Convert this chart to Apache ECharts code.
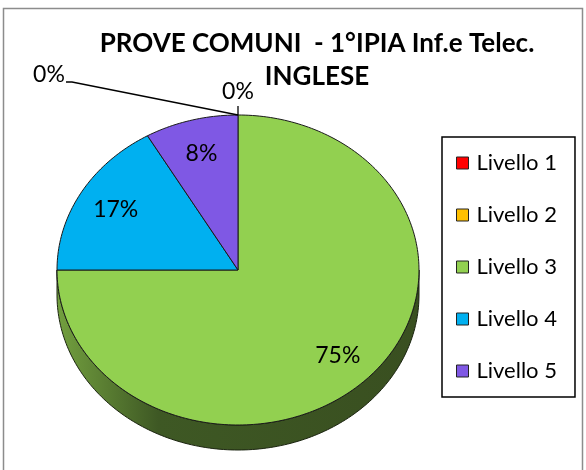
<!DOCTYPE html>
<html>
<head>
<meta charset="utf-8">
<script src="https://cdn.jsdelivr.net/npm/echarts@6/dist/echarts.min.js"></script>
<style>
html, body { margin: 0; padding: 0; background: #fff; }
#chart { width: 586px; height: 470px; }
</style>
</head>
<body>
<div id="chart"></div>
<script>
const levels = ['Livello 1', 'Livello 2', 'Livello 3', 'Livello 4', 'Livello 5']
const values = [0, 0, 9, 2, 1]
const colors = ['#ff0000', '#ffc000', '#92d050', '#00b0f0', '#7f58e4']

const FONT = 'Lato, "Liberation Sans", sans-serif'
// ellipse of the tilted pie
const CX = 238, CY = 270, RX = 181, RY = 155, DEPTH = 25

const total = values.reduce((a, b) => a + b, 0)

function pt(theta, k, dy) {
  return [CX + RX * k * Math.sin(theta), CY - RY * k * Math.cos(theta) + (dy || 0)]
}

function arc(a0, a1, dy) {
  const pts = []
  const n = Math.max(2, Math.ceil((a1 - a0) / 0.02))
  for (let j = 0; j <= n; j++) pts.push(pt(a0 + (a1 - a0) * j / n, 1, dy))
  return pts
}

function makeRender(i) {
  return function (params, api) {
    const v = api.value(0)
    const start = values.slice(0, i).reduce((a, b) => a + b, 0)
    const a0 = start / total * Math.PI * 2
    const a1 = (start + v) / total * Math.PI * 2
    const children = []
    const pct = Math.round(v / total * 100) + '%'
    const lblStyle = { text: pct, fontSize: 23, fontFamily: FONT, fill: '#000', align: 'center', verticalAlign: 'middle' }

    if (v > 0) {
      // side wall, only the front half is visible
      const s = Math.max(a0, Math.PI / 2), e = Math.min(a1, Math.PI * 1.5)
      if (e > s) {
        const side = arc(s, e, 0).concat(arc(s, e, DEPTH).reverse())
        children.push({
          type: 'polygon', z2: 1,
          shape: { points: side },
          style: {
            fill: {
              type: 'linear', global: true, x: CX - RX, y: 0, x2: CX + RX, y2: 0,
              colorStops: [
                { offset: 0, color: '#73a03f' },
                { offset: 0.28, color: '#3e5824' },
                { offset: 1, color: '#394f20' }
              ]
            },
            stroke: '#1b2410', lineWidth: 1
          }
        })
      }
      const top = [[CX, CY]].concat(arc(a0, a1, 0))
      children.push({
        type: 'polygon', z2: 2,
        shape: { points: top },
        style: { fill: colors[i], stroke: '#1a1a1a', lineWidth: 1 }
      })
      const p = pt((a0 + a1) / 2, 0.78)
      children.push({ type: 'text', z2: 5, x: p[0], y: p[1], style: lblStyle })
    } else {
      const tip = pt(a0, 1)
      if (i === 0) {
        children.push({
          type: 'polyline', z2: 4,
          shape: { points: [tip, [tip[0] - 166, tip[1] - 33], [tip[0] - 172, tip[1] - 33]] },
          style: { stroke: '#000', lineWidth: 1.3, fill: null }
        })
        children.push({ type: 'text', z2: 5, x: tip[0] - 189, y: tip[1] - 40, style: lblStyle })
      } else {
        children.push({
          type: 'line', z2: 4,
          shape: { x1: tip[0], y1: tip[1], x2: tip[0], y2: tip[1] - 9 },
          style: { stroke: '#000', lineWidth: 1.3 }
        })
        children.push({ type: 'text', z2: 5, x: tip[0], y: tip[1] - 23, style: lblStyle })
      }
    }
    return { type: 'group', children }
  }
}

const chart = echarts.init(document.getElementById('chart'))

chart.setOption({
  animation: false,
  backgroundColor: '#fff',
  title: {
    text: 'PROVE COMUNI  - 1°IPIA Inf.e Telec.\nINGLESE',
    left: 312,
    top: 22,
    textAlign: 'center',
    textStyle: { fontSize: 26, fontWeight: 'bold', fontFamily: FONT, color: '#000', lineHeight: 33 }
  },
  legend: {
    orient: 'vertical',
    left: 442,
    top: 137,
    data: levels,
    icon: 'rect',
    itemWidth: 12,
    itemHeight: 12,
    itemGap: 30,
    padding: [15, 18, 15, 14],
    borderColor: '#000',
    borderWidth: 1.5,
    itemStyle: { borderColor: '#222', borderWidth: 1 },
    textStyle: { fontSize: 22, lineHeight: 20, fontFamily: FONT, color: '#000', padding: [0, 0, 0, 3] }
  },
  graphic: [{
    type: 'rect',
    shape: { x: 3.5, y: 8.5, width: 579, height: 470 },
    style: { fill: null, stroke: '#8c8c8c', lineWidth: 1.5 },
    silent: true
  }],
  series: levels.map((name, i) => ({
    name,
    type: 'custom',
    coordinateSystem: 'none',
    itemStyle: { color: colors[i] },
    data: [[values[i]]],
    renderItem: makeRender(i)
  }))
})

window.addEventListener('resize', () => chart.resize())
</script>
</body>
</html>
